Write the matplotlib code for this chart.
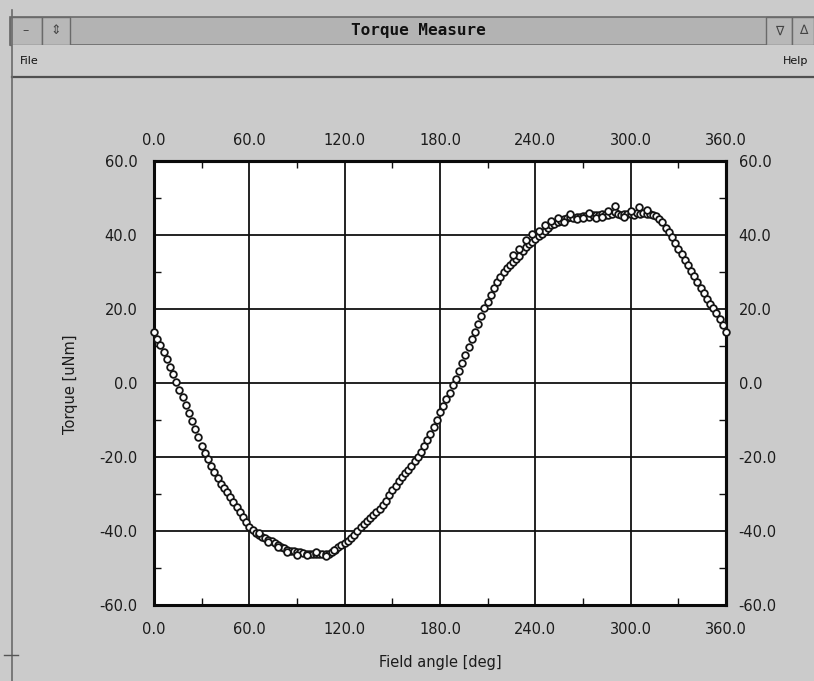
import matplotlib
matplotlib.use("Agg")
import matplotlib.pyplot as plt
from matplotlib.patches import Rectangle
import numpy as np

# ---------------- data ----------------
angle_main = list(range(0, 362, 2))
torque_main = [
    13.8, 12.0, 10.3, 8.3, 6.4, 4.4, 2.3, 0.3, -1.8, -3.9,
    -6.0, -8.1, -10.2, -12.4, -14.6, -16.9, -18.8, -20.6, -22.3, -24.0,
    -25.6, -27.2, -28.3, -29.5, -30.8, -32.2, -33.4, -34.8, -36.2, -37.6,
    -39.0, -39.8, -40.5, -41.1, -41.6, -42.0, -42.4, -42.8, -43.3, -43.8,
    -44.2, -44.6, -45.0, -45.3, -45.5, -45.7, -45.8, -46.0, -46.1, -46.2,
    -46.2, -46.3, -46.2, -46.3, -46.2, -46.1, -45.8, -45.0, -44.3, -43.8,
    -43.2, -42.6, -41.8, -41.0, -40.0, -38.8, -38.0, -37.2, -36.4, -35.6,
    -34.8, -34.0, -33.0, -31.8, -30.4, -29.0, -27.8, -26.6, -25.4, -24.4,
    -23.4, -22.3, -21.1, -20.0, -18.6, -17.1, -15.5, -13.8, -12.0, -10.0,
    -7.9, -6.2, -4.4, -2.7, -0.6, 1.2, 3.3, 5.5, 7.6, 9.6,
    11.8, 13.9, 16.0, 18.2, 20.2, 22.0, 23.9, 25.7, 27.3, 28.6,
    29.9, 31.0, 32.0, 32.8, 33.6, 34.4, 35.6, 36.8, 37.6, 38.2,
    38.8, 39.6, 40.4, 41.1, 41.8, 42.6, 43.1, 43.5, 43.9, 44.2,
    44.5, 44.8, 44.7, 45.0, 44.9, 45.1, 45.2, 45.0, 45.3, 45.4,
    45.3, 45.6, 45.5, 45.4, 45.7, 46.2, 45.6, 45.5, 45.8, 45.6,
    45.7, 45.5, 45.9, 45.6, 46.0, 45.8, 45.6, 45.4, 45.1, 44.4,
    43.4, 42.0, 40.8, 39.4, 37.8, 36.3, 34.8, 33.3, 31.8, 30.3,
    28.8, 27.2, 25.7, 24.2, 22.7, 21.4, 20.2, 19.0, 17.4, 15.6,
    13.8,
]
angle_extra = [66, 72, 78, 84, 90, 96, 102, 108, 113,
               226, 230, 234, 238, 242, 246, 250, 254, 258, 262,
               266, 270, 274, 278, 282, 286, 290, 296, 300, 305, 310]
torque_extra = [-40.5, -43.0, -44.4, -45.6, -46.4, -46.6, -45.8, -46.7, -45.2,
                34.6, 36.2, 38.6, 40.2, 41.2, 42.6, 43.8, 44.6, 43.6, 45.6,
                44.2, 44.5, 45.9, 44.6, 45.0, 46.4, 47.9, 45.0, 46.6, 47.5, 46.8]

x_ticks = [0, 60, 120, 180, 240, 300, 360]
y_ticks = [-60, -40, -20, 0, 20, 40, 60]
x_tick_labels = ["0.0", "60.0", "120.0", "180.0", "240.0", "300.0", "360.0"]
y_tick_labels = ["-60.0", "-40.0", "-20.0", "0.0", "20.0", "40.0", "60.0"]

window_title = "Torque Measure"
x_label = "Field angle [deg]"
y_label = "Torque [uNm]"

# ---------------- figure & window chrome ----------------
W, H = 814, 681
body = "#cbcbcb"
fig = plt.figure(figsize=(W / 100, H / 100), dpi=100, facecolor=body)

chrome = fig.add_axes([0, 0, 1, 1])
chrome.set_xlim(0, W)
chrome.set_ylim(H, 0)
chrome.axis("off")
chrome.set_zorder(-5)
# title bar
chrome.add_patch(Rectangle((10, 17), 804, 28, facecolor="#b3b3b3", edgecolor="#6a6a6a", lw=1.2))
chrome.add_patch(Rectangle((10, 17), 32, 28, facecolor="#b8b8b8", edgecolor="#6a6a6a", lw=1.0))
chrome.add_patch(Rectangle((42, 17), 28, 28, facecolor="#b8b8b8", edgecolor="#6a6a6a", lw=1.0))
chrome.add_patch(Rectangle((766, 17), 26, 28, facecolor="#b8b8b8", edgecolor="#6a6a6a", lw=1.0))
chrome.add_patch(Rectangle((792, 17), 22, 28, facecolor="#b8b8b8", edgecolor="#6a6a6a", lw=1.0))
# menu bar
chrome.add_patch(Rectangle((12, 45), 802, 32, facecolor="#cdcdcd", edgecolor="none"))
chrome.plot([12, 814], [77, 77], color="#505050", lw=1.6)
# window left frame
chrome.plot([12, 12], [10, 681], color="#6a6a6a", lw=1.2)
chrome.plot([4, 18], [655, 655], color="#555555", lw=1.0)

chrome.text(418, 31, window_title, ha="center", va="center", fontsize=11.5,
            fontweight="bold", family="DejaVu Sans Mono", color="#111111")
chrome.text(20, 61, "File", ha="left", va="center", fontsize=8, color="#111111")
chrome.text(808, 61, "Help", ha="right", va="center", fontsize=8, color="#111111")
chrome.text(26, 31, "\u2013", ha="center", va="center", fontsize=9, color="#444444")
chrome.text(56, 31, "\u21d5", ha="center", va="center", fontsize=9, color="#444444")
chrome.text(779, 31, "\u2207", ha="center", va="center", fontsize=9, color="#444444")
chrome.text(803, 31, "\u2206", ha="center", va="center", fontsize=9, color="#444444")

# ---------------- plot ----------------
left, right, top, bottom = 154, 726, 161, 605
ax = fig.add_axes([left / W, 1 - bottom / H, (right - left) / W, (bottom - top) / H])
ax.set_facecolor("white")
ax.set_xlim(0, 360)
ax.set_ylim(-60, 60)

ax.plot(angle_main, torque_main, linestyle="none", marker="o", ms=4.8,
        mfc="white", mec="#151515", mew=1.3, zorder=3, clip_on=False)
ax.plot(angle_extra, torque_extra, linestyle="none", marker="o", ms=4.8,
        mfc="white", mec="#151515", mew=1.3, zorder=3, clip_on=False)

ax.set_xticks(x_ticks)
ax.set_yticks(y_ticks)
ax.set_xticks([30, 90, 150, 210, 270, 330], minor=True)
ax.set_yticks([-50, -30, -10, 10, 30, 50], minor=True)
ax.set_xticklabels(x_tick_labels)
ax.set_yticklabels(y_tick_labels)
ax.grid(True, which="major", color="#111111", lw=1.3)

lab_color = "#1c1c1c"
ax.tick_params(axis="both", which="both", direction="in", top=True, right=True,
               colors="#111111", labelcolor=lab_color, labelsize=10.5)
ax.tick_params(axis="both", which="major", length=0)
ax.tick_params(axis="both", which="minor", length=5, width=1.0)
ax.tick_params(axis="x", which="major", pad=12)
ax.tick_params(axis="y", which="major", pad=12)
for s in ax.spines.values():
    s.set_linewidth(2.2)
    s.set_color("#0a0a0a")

sx = ax.secondary_xaxis("top")
sx.set_xticks(x_ticks)
sx.set_xticklabels(x_tick_labels)
sx.tick_params(length=0, pad=9, labelsize=10.5, labelcolor=lab_color)
sy = ax.secondary_yaxis("right")
sy.set_yticks(y_ticks)
sy.set_yticklabels(y_tick_labels)
sy.tick_params(length=0, pad=9, labelsize=10.5, labelcolor=lab_color)
for s in list(sx.spines.values()) + list(sy.spines.values()):
    s.set_linewidth(2.2)
    s.set_color("#0a0a0a")

fig.text(440 / W, 1 - 662 / H, x_label, ha="center", va="center",
         fontsize=10.5, color=lab_color)
fig.text(70 / W, 1 - 384 / H, y_label, ha="center", va="center",
         rotation=90, fontsize=10.5, color=lab_color)

fig.savefig("out.png", dpi=100, facecolor=body)
